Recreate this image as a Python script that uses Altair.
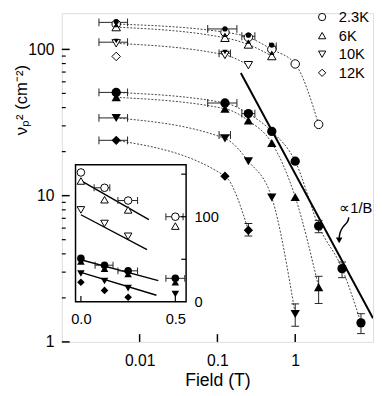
import altair as alt
import pandas as pd

FONT = "Liberation Sans"

# ---------------- data ----------------
# main panel field values (0.005 T stands for zero field on the log axis)
FIELD_MAIN = [0.005, 0.125, 0.25, 0.5, 1, 2, 4, 7]
TEMPS = ["2.3K", "6K", "10K", "12K"]
SHAPES = ["circle", "triangle-up", "triangle-down", "diamond"]

open_23K = [149, 131, 121, 100, 79.5, 30.7]
open_6K = [142, 120, 108, 90]
open_10K = [110, 91.6, 78]
open_12K = [89.5]

small_circ = [155, 138, 125, 107]
small_tri = [147, 126, 113, 95]
small_tdn = [114, 96]

fill_circ = [50.8, 43, 36.4, 27.5, 17.2, 6.2, 3.17, 1.35]
fill_tri = [47, 39.3, 32.6, 22.9, 9.8, 2.37]
fill_tdn = [34, 24.6, 17.2, 9.7, 1.55]
fill_dia = [23.9, 13.6, 5.8]

# horizontal error bars (main)
hb_lo = [0.003, 0.003, 0.003, 0.003, 0.003, 0.075, 0.075, 0.105, 0.105, 0.206, 0.206, 0.466]
hb_hi = [0.007, 0.007, 0.007, 0.007, 0.007, 0.178, 0.178, 0.147, 0.147, 0.303, 0.303, 0.57]
hb_v = [153, 112, 50.8, 34, 23.9, 138, 43, 94, 26, 123, 36.4, 105]

# vertical error bars (main)
vb_B = [0.25, 1, 2, 2, 4, 7]
vb_lo = [5.3, 1.28, 1.83, 5.58, 2.75, 1.14]
vb_hi = [6.45, 1.82, 2.81, 6.78, 3.52, 1.56]

# 1/B guide line
guide_B = [0.2, 10]
guide_v = [69, 1.45]

# annotation
annot_B = [6.0]
annot_v = [8.25]
annot_text = ["\u221d1/B"]
arrow_B = [4.89, 4.75, 4.11, 3.73, 3.67]
arrow_v = [7.1, 6.58, 6.18, 5.58, 5.1]
arrowhead_B = [3.67]
arrowhead_v = [4.95]

# y-axis title anchor (in data units, left of the plot)
ytitle_B = [0.00031]
ytitle_v = [45]

# tick values
x_major = [0.01, 0.1, 1]
y_major = [1, 10, 100]
y_minor = [2, 3, 4, 5, 6, 7, 8, 9, 20, 30, 40, 50, 60, 70, 80, 90]

# inset (linear field)
FIELD_INSET = [0, 0.125, 0.25, 0.5]
in_open_circ = [152, 134, 119, 100]
in_open_tri = [142, 120, 108, 89]
in_open_tdn = [108, 92, 77]
in_fill_circ = [51, 43, 36.4, 27.6]
in_fill_tri = [47.5, 39, 32.6, 23]
in_fill_tdn = [33.3, 24.5, 16.1, 9.2]
in_fill_dia = [23, 13.4, 5.4]

fit_B0 = [0, 0, 0, 0]
fit_B1 = [0.36, 0.35, 0.41, 0.40]
fit_v0 = [142.5, 102.3, 49.4, 34.5]
fit_v1 = [96.5, 61.3, 24.9, 7.7]

ihb_lo = [0.07, 0.196, 0.45, 0.075, 0.196, 0.45]
ihb_hi = [0.153, 0.30, 0.541, 0.17, 0.30, 0.55]
ihb_v = [134, 119, 100, 43, 36.4, 27.6]

in_xdom = [-0.0285, 0.557]
in_ydom = [0, 161]
in_yticks = [50, 100, 150]
in_xticks = [0, 0.5]

XT = "Field (T)"
YT = "\u03bd\u209a\u00b2 (cm\u207b\u00b2)"


# ---------------- tables ----------------
def rows(vals, key, shape, temp, fields):
    return [{"B": fields[i], "v": v, "key": key, "shape": shape, "T": temp}
            for i, v in enumerate(vals)]


open_df = pd.DataFrame(
    rows(open_23K, "o23", SHAPES[0], TEMPS[0], FIELD_MAIN)
    + rows(open_6K, "o6", SHAPES[1], TEMPS[1], FIELD_MAIN)
    + rows(open_10K, "o10", SHAPES[2], TEMPS[2], FIELD_MAIN)
    + rows(open_12K, "o12", SHAPES[3], TEMPS[3], FIELD_MAIN))
fill_df = pd.DataFrame(
    rows(fill_circ, "f23", SHAPES[0], TEMPS[0], FIELD_MAIN)
    + rows(fill_tri, "f6", SHAPES[1], TEMPS[1], FIELD_MAIN)
    + rows(fill_tdn, "f10", SHAPES[2], TEMPS[2], FIELD_MAIN)
    + rows(fill_dia, "f12", SHAPES[3], TEMPS[3], FIELD_MAIN))
small_df = pd.DataFrame(
    rows(small_circ, "s23", SHAPES[0], TEMPS[0], FIELD_MAIN)
    + rows(small_tri, "s6", SHAPES[1], TEMPS[1], FIELD_MAIN)
    + rows(small_tdn, "s10", SHAPES[2], TEMPS[2], FIELD_MAIN))
lines_df = pd.concat([open_df[open_df["key"] != "o12"], fill_df], ignore_index=True)

hb_df = pd.DataFrame({"lo": hb_lo, "hi": hb_hi, "v": hb_v})
hb_caps = pd.DataFrame({"B": hb_lo + hb_hi, "v": hb_v + hb_v})
vb_df = pd.DataFrame({"B": vb_B, "lo": vb_lo, "hi": vb_hi})
vb_caps = pd.DataFrame({"B": vb_B + vb_B, "v": vb_lo + vb_hi})
guide_df = pd.DataFrame({"B": guide_B, "v": guide_v})
annot_df = pd.DataFrame({"B": annot_B, "v": annot_v, "t": annot_text})
arrow_df = pd.DataFrame({"B": arrow_B, "v": arrow_v, "i": list(range(len(arrow_B)))})
head_df = pd.DataFrame({"B": arrowhead_B, "v": arrowhead_v})
ytitle_df = pd.DataFrame({"B": ytitle_B, "v": ytitle_v, "t": [YT]})
xmaj_df = pd.DataFrame({"t": x_major})
ymaj_df = pd.DataFrame({"t": y_major})
ymin_df = pd.DataFrame({"t": y_minor})

in_open_df = pd.DataFrame(
    rows(in_open_circ, "a", SHAPES[0], TEMPS[0], FIELD_INSET)
    + rows(in_open_tri, "b", SHAPES[1], TEMPS[1], FIELD_INSET)
    + rows(in_open_tdn, "c", SHAPES[2], TEMPS[2], FIELD_INSET))
in_fill_df = pd.DataFrame(
    rows(in_fill_circ, "d", SHAPES[0], TEMPS[0], FIELD_INSET)
    + rows(in_fill_tri, "e", SHAPES[1], TEMPS[1], FIELD_INSET)
    + rows(in_fill_tdn, "f", SHAPES[2], TEMPS[2], FIELD_INSET)
    + rows(in_fill_dia, "g", SHAPES[3], TEMPS[3], FIELD_INSET))
fit_df = pd.DataFrame({
    "B": fit_B0 + fit_B1,
    "v": fit_v0 + fit_v1,
    "k": list(range(4)) + list(range(4)),
})
ihb_df = pd.DataFrame({"lo": ihb_lo, "hi": ihb_hi, "v": ihb_v})
ihb_caps = pd.DataFrame({"B": ihb_lo + ihb_hi, "v": ihb_v + ihb_v})
frame_df = pd.DataFrame({"x0": [in_xdom[0]], "x1": [in_xdom[1]],
                         "y0": [in_ydom[0]], "y1": [in_ydom[1]]})
in_yt_df = pd.DataFrame({"t": in_yticks})
in_xt_df = pd.DataFrame({"t": in_xticks})

legend_df = pd.DataFrame({"T": TEMPS, "shape": SHAPES, "r": list(range(len(TEMPS)))})

# ---------------- scales / axes ----------------
W, H = 318, 336
xs = alt.Scale(type="log", domain=[0.001, 10], nice=False)
ys = alt.Scale(type="log", domain=[1, 177], nice=False)

x_axis = alt.Axis(values=x_major, format="~g", orient="bottom", grid=False,
                  ticks=False, domain=False, labelFontSize=16, labelPadding=11,
                  labelFont=FONT, labelColor="black", titleFont=FONT,
                  titleFontSize=18, titleFontWeight="normal", titleColor="black",
                  titlePadding=4)
y_axis = alt.Axis(values=y_major, format="d", orient="left", grid=False,
                  ticks=False, domain=False, labelFontSize=16, labelPadding=8,
                  labelFont=FONT, labelColor="black", title=None)


def X(f):
    return alt.X(f, type="quantitative", scale=xs, axis=x_axis, title=XT)


def Y(f):
    return alt.Y(f, type="quantitative", scale=ys, axis=y_axis, title=None)


xis = alt.Scale(domain=in_xdom, range=[14, 127], nice=False, zero=False)
yis = alt.Scale(domain=in_ydom, range=[295, 155], nice=False, zero=False)
xin_axis = alt.Axis(values=in_xticks, format=".1f", orient="bottom", offset=-41,
                    grid=False, ticks=False, domain=False, labelFontSize=15,
                    labelPadding=10, labelFont=FONT, labelColor="black",
                    labelFlush=False, title=None)
yin_axis = alt.Axis(values=[0, 100], format="d", orient="right", offset=-191,
                    grid=False, ticks=False, domain=False, labelFontSize=15,
                    labelPadding=8, labelFont=FONT, labelColor="black",
                    title=None)


def XI(f):
    return alt.X(f, type="quantitative", scale=xis, axis=xin_axis, title=None)


def YI(f):
    return alt.Y(f, type="quantitative", scale=yis, axis=yin_axis, title=None)


# ---------------- main layers ----------------
dotted = alt.Chart(lines_df).mark_line(
    color="#444", strokeWidth=1, strokeDash=[2, 1.6], interpolate="monotone"
).encode(x=X("B"), y=Y("v"), detail="key:N")

guide = alt.Chart(guide_df).mark_line(color="black", strokeWidth=2, clip=True).encode(
    x=X("B"), y=Y("v"))

hbars = alt.Chart(hb_df).mark_rule(color="#222", strokeWidth=1).encode(
    x=X("lo"), x2="hi:Q", y=Y("v"))
hcaps = alt.Chart(hb_caps).mark_tick(orient="vertical", size=8, thickness=1,
                                     color="#222", opacity=1).encode(x=X("B"), y=Y("v"))
vbars = alt.Chart(vb_df).mark_rule(color="#222", strokeWidth=1).encode(
    x=X("B"), y=Y("lo"), y2="hi:Q")
vcaps = alt.Chart(vb_caps).mark_tick(orient="horizontal", size=8, thickness=1,
                                     color="#222", opacity=1).encode(x=X("B"), y=Y("v"))

open_pts = alt.Chart(open_df).mark_point(
    filled=True, fill="white", stroke="black", strokeWidth=1, size=75, opacity=1
).encode(x=X("B"), y=Y("v"), shape=alt.Shape("shape:N", scale=None))
small_pts = alt.Chart(small_df).mark_point(filled=True, color="black", size=28,
                                           opacity=1).encode(
    x=X("B"), y=Y("v"), shape=alt.Shape("shape:N", scale=None))
fill_pts = alt.Chart(fill_df).mark_point(filled=True, color="black", size=90,
                                         opacity=1).encode(
    x=X("B"), y=Y("v"), shape=alt.Shape("shape:N", scale=None))

annot = alt.Chart(annot_df).mark_text(fontSize=15, font=FONT, color="black",
                                      align="center", baseline="middle").encode(
    x=X("B"), y=Y("v"), text="t:N")
arrow = alt.Chart(arrow_df).mark_line(color="black", strokeWidth=1.5,
                                      interpolate="basis").encode(
    x=X("B"), y=Y("v"), order="i:Q")
head = alt.Chart(head_df).mark_point(shape="triangle-down", filled=True,
                                     color="black", size=45, opacity=1).encode(
    x=X("B"), y=Y("v"))
ytitle = alt.Chart(ytitle_df).mark_text(
    fontSize=17, font=FONT, color="black", align="center", baseline="middle",
    angle=270, clip=False
).encode(x=X("B"), y=Y("v"), text="t:N")

xt = alt.Chart(xmaj_df).mark_rule(color="black", strokeWidth=1.5).encode(
    x=X("t"), y=alt.value(H), y2=alt.value(H - 8))
ytM = alt.Chart(ymaj_df).mark_rule(color="black", strokeWidth=1.5).encode(
    y=Y("t"), x=alt.value(0), x2=alt.value(8))
ytm = alt.Chart(ymin_df).mark_rule(color="black", strokeWidth=1.2).encode(
    y=Y("t"), x=alt.value(0), x2=alt.value(4))

main = alt.layer(dotted, guide, hbars, hcaps, vbars, vcaps, open_pts, small_pts,
                 fill_pts, annot, arrow, head, ytitle, xt, ytM, ytm)

# ---------------- inset layers ----------------
frame = alt.Chart(frame_df).mark_rect(fill="white", stroke="black", strokeWidth=1.5).encode(
    x=XI("x0"), x2="x1:Q", y=YI("y0"), y2="y1:Q")
fits = alt.Chart(fit_df).mark_line(color="black", strokeWidth=1.4).encode(
    x=XI("B"), y=YI("v"), detail="k:N")
ihbars = alt.Chart(ihb_df).mark_rule(color="#222", strokeWidth=1).encode(
    x=XI("lo"), x2="hi:Q", y=YI("v"))
ihcaps = alt.Chart(ihb_caps).mark_tick(orient="vertical", size=7, thickness=1,
                                       color="#222", opacity=1).encode(x=XI("B"), y=YI("v"))
in_open = alt.Chart(in_open_df).mark_point(
    filled=True, fill="white", stroke="black", strokeWidth=1, size=60, opacity=1
).encode(x=XI("B"), y=YI("v"), shape=alt.Shape("shape:N", scale=None))
in_fill = alt.Chart(in_fill_df).mark_point(filled=True, color="black", size=60,
                                           opacity=1).encode(
    x=XI("B"), y=YI("v"), shape=alt.Shape("shape:N", scale=None))
in_yt = alt.Chart(in_yt_df).mark_rule(color="black", strokeWidth=1.2).encode(
    y=YI("t"), x=alt.value(122), x2=alt.value(127))
in_xt = alt.Chart(in_xt_df).mark_rule(color="black", strokeWidth=1.2).encode(
    x=XI("t"), y=alt.value(295), y2=alt.value(289))

inset = alt.layer(frame, fits, ihbars, ihcaps, in_open, in_fill, in_yt, in_xt)

# ---------------- legend ----------------
ly = alt.Scale(domain=[0, 3], range=[4, 61], nice=False, zero=False)
leg_sym = alt.Chart(legend_df).mark_point(
    filled=True, fill="white", stroke="black", strokeWidth=1, size=55, opacity=1
).encode(x=alt.value(266), y=alt.Y("r:Q", scale=ly, axis=None),
         shape=alt.Shape("shape:N", scale=None))
leg_txt = alt.Chart(legend_df).mark_text(
    fontSize=15, font=FONT, color="black", align="left", baseline="middle"
).encode(x=alt.value(283), y=alt.Y("r:Q", scale=ly, axis=None), text="T:N")

legend = alt.layer(leg_sym, leg_txt)

chart = alt.layer(main, inset, legend).resolve_scale(
    x="independent", y="independent"
).resolve_axis(
    x="independent", y="independent"
).properties(
    width=W, height=H,
    padding={"left": 55, "top": 1, "right": 1, "bottom": 50},
    autosize=alt.AutoSizeParams(type="none"),
).configure_view(stroke="black", strokeWidth=2).configure(background="white")

chart.save("out.html", embed_options={"renderer": "svg", "actions": False})
